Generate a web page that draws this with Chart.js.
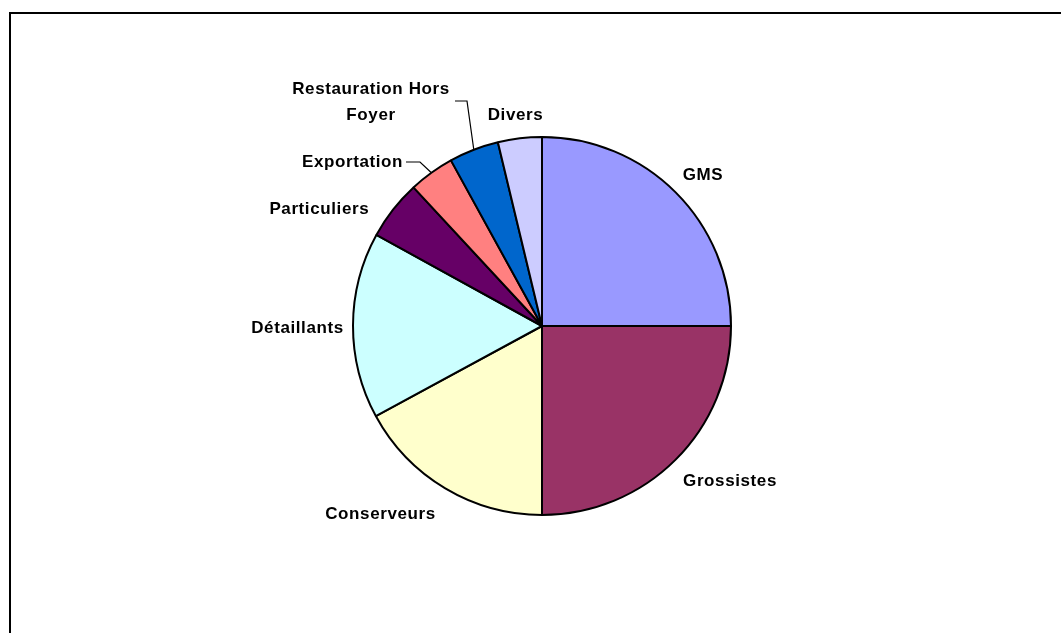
<!DOCTYPE html>
<html lang="fr">
<head>
<meta charset="utf-8">
<title>Répartition des ventes par circuit</title>
<script src="https://cdn.jsdelivr.net/npm/chart.js@4/dist/chart.umd.min.js"></script>
<style>
  html, body { margin: 0; padding: 0; background: #fff; }
  #wrap { width: 1061px; height: 633px; position: relative; }
</style>
</head>
<body>
<div id="wrap"><canvas id="pie" width="1061" height="633"></canvas></div>
<script>
// Circuits de distribution (sens horaire depuis midi)
const categories = ['GMS', 'Grossistes', 'Conserveurs', 'Détaillants', 'Particuliers',
                    'Exportation', 'Restauration Hors Foyer', 'Divers'];
// Parts (%)
const shares = [25, 25, 17.1, 15.9, 5.1, 3.9, 4.25, 3.75];
// Libellés affichés (sur une ou deux lignes)
const labelLines = [['GMS'], ['Grossistes'], ['Conserveurs'], ['Détaillants'], ['Particuliers'],
                    ['Exportation'], ['Restauration Hors', 'Foyer'], ['Divers']];
const sliceColors = ['#9999FF', '#993366', '#FFFFCC', '#CCFFFF', '#660066',
                     '#FF8080', '#0066CC', '#CCCCFF'];

// Position des libellés, relative au centre du camembert (dx, dy du milieu des capitales)
const labelOffsets = [
  [[161, -152]],
  [[188, 154]],
  [[-161.5, 187]],
  [[-244.5, 1]],
  [[-222.7, -118.5]],
  [[-189.5, -165]],
  [[-171, -238], [-171, -212.5]],
  [[-26.5, -212]]
];
// Traits de rappel : [début, coude] relatifs au centre ; la fin est le milieu de l'arc
const leaders = {
  5: [[-136, -164], [-122, -164]],
  6: [[-87, -225], [-75, -225]]
};

const FONT = 'bold 17px "Liberation Sans", Arial, sans-serif';

const framePlugin = {
  id: 'frame',
  beforeDraw(chart) {
    const ctx = chart.ctx;
    ctx.save();
    ctx.fillStyle = '#fff';
    ctx.fillRect(0, 0, chart.width, chart.height);
    ctx.strokeStyle = '#000';
    ctx.lineWidth = 2;
    ctx.beginPath();
    ctx.moveTo(10, chart.height + 5);
    ctx.lineTo(10, 13);
    ctx.lineTo(chart.width + 5, 13);
    ctx.stroke();
    ctx.restore();
  }
};

const labelPlugin = {
  id: 'sliceLabels',
  afterDatasetsDraw(chart) {
    const ctx = chart.ctx;
    const arcs = chart.getDatasetMeta(0).data;
    ctx.save();
    ctx.font = FONT;
    if ('letterSpacing' in ctx) ctx.letterSpacing = '0.6px';
    ctx.fillStyle = '#000';
    ctx.textAlign = 'center';
    ctx.textBaseline = 'alphabetic';
    arcs.forEach((arc, i) => {
      const p = arc.getProps(['x', 'y', 'startAngle', 'endAngle', 'outerRadius'], true);
      labelLines[i].forEach((line, j) => {
        const [dx, dy] = labelOffsets[i][j];
        ctx.fillText(line, p.x + dx, p.y + dy + 6);
      });
      const ld = leaders[i];
      if (ld) {
        const mid = (p.startAngle + p.endAngle) / 2;
        const ex = p.x + Math.cos(mid) * p.outerRadius;
        const ey = p.y + Math.sin(mid) * p.outerRadius;
        ctx.strokeStyle = '#000';
        ctx.lineWidth = 1.2;
        ctx.beginPath();
        ctx.moveTo(p.x + ld[0][0], p.y + ld[0][1]);
        ctx.lineTo(p.x + ld[1][0], p.y + ld[1][1]);
        ctx.lineTo(ex, ey);
        ctx.stroke();
      }
    });
    ctx.restore();
  }
};

new Chart(document.getElementById('pie'), {
  type: 'pie',
  data: {
    labels: categories,
    datasets: [{
      data: shares,
      backgroundColor: sliceColors,
      borderColor: '#000',
      borderWidth: 2,
      hoverOffset: 0
    }]
  },
  options: {
    responsive: false,
    animation: false,
    radius: 189,
    layout: { padding: { left: 123, right: 100, top: 119, bottom: 100 } },
    plugins: {
      legend: { display: false },
      tooltip: { enabled: false }
    }
  },
  plugins: [framePlugin, labelPlugin]
});
</script>
</body>
</html>
